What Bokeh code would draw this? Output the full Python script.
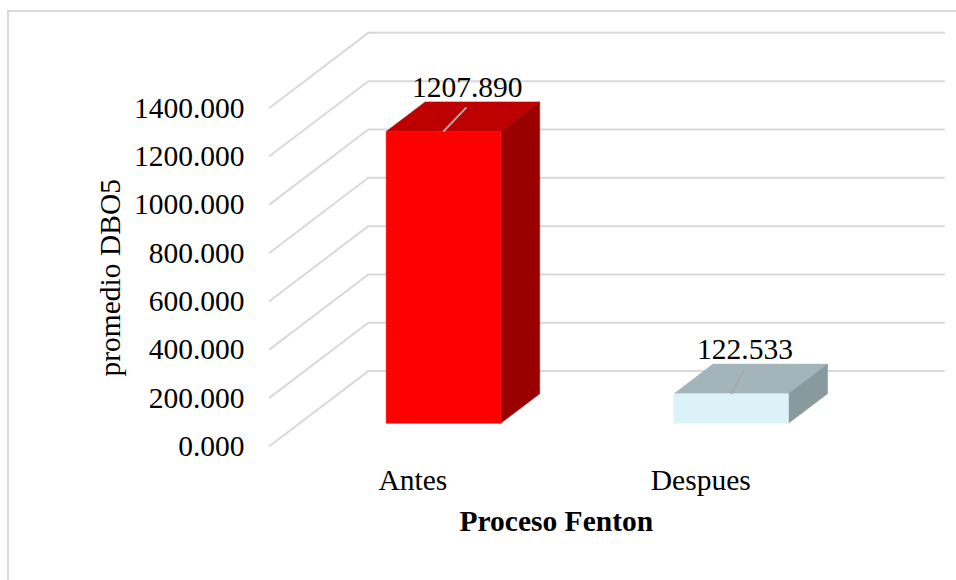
from bokeh.embed import file_html
from bokeh.resources import INLINE
from bokeh.core.properties import value
from bokeh.models import FixedTicker, Range1d, Title
from bokeh.plotting import figure

# Chart values
categories = ["Antes", "Despues"]
promedio_dbo5 = [1207.890, 122.533]
tick_values = [0, 200, 400, 600, 800, 1000, 1200, 1400]

# Face colours of each bar
front_colors = ["#FF0000", "#DAF2F8"]
top_colors = ["#BD0000", "#A3B5BA"]
side_colors = ["#9B0000", "#889A9E"]
leader_colors = ["#B0A8A8", "#ABA8A8"]
leader_lean = [0.080, 0.045]

FONT = "Liberation Serif"
FONT_SIZE = "29.5px"
GRID = "#D9D9D9"

# Scale of the plotting plane, in pixels per unit
PX_PER_CATEGORY = 287.0
PX_PER_VALUE = 0.2405

# Oblique projection: depth 0..1 moves a point right and up on the page
DEPTH_X = 0.345
DEPTH_Y = 312.0
BAR_HALF = 0.199
BAR_NEAR = 0.307
BAR_FAR = 0.700


def px(c, d):
    return c + d * DEPTH_X


def py(v, d):
    return v + d * DEPTH_Y


def page_x(x):
    # Category coordinate of a horizontal page position
    return (x - 413) / PX_PER_CATEGORY


def page_y(y):
    # Value coordinate of a vertical page position
    return (445 - y) / PX_PER_VALUE


p = figure(
    width=947, height=568, output_backend="svg", toolbar_location=None,
    x_range=Range1d(page_x(269), page_x(957)), y_range=Range1d(page_y(451), page_y(13)),
    min_border_left=259, min_border_right=0, min_border_top=0, min_border_bottom=130,
)
# Chart area border on the left and top; the other two sides fall off the page
p.styles = {
    "margin-left": "7px", "margin-top": "10px",
    "border-left": f"2px solid {GRID}", "border-top": f"2px solid {GRID}",
    "box-sizing": "content-box",
}
p.outline_line_color = None
p.background_fill_color = "white"
p.border_fill_color = "white"
p.grid.visible = False

# Floor-to-wall guide lines and the back wall lines
for t in tick_values:
    p.line([px(-0.5, 0), px(-0.5, 1), px(1.503, 1)], [py(t, 0), py(t, 1), py(t, 1)],
           line_color=GRID, line_width=2)

# Three visible faces of every bar
for i, v in enumerate(promedio_dbo5):
    l, r = i - BAR_HALF, i + BAR_HALF
    p.patch([px(l, BAR_NEAR), px(r, BAR_NEAR), px(r, BAR_FAR), px(l, BAR_FAR)],
            [py(v, BAR_NEAR), py(v, BAR_NEAR), py(v, BAR_FAR), py(v, BAR_FAR)],
            fill_color=top_colors[i], line_color=top_colors[i], line_width=0.5)
    p.patch([px(r, BAR_NEAR), px(r, BAR_FAR), px(r, BAR_FAR), px(r, BAR_NEAR)],
            [py(0, BAR_NEAR), py(0, BAR_FAR), py(v, BAR_FAR), py(v, BAR_NEAR)],
            fill_color=side_colors[i], line_color=side_colors[i], line_width=0.5)
    p.patch([px(l, BAR_NEAR), px(r, BAR_NEAR), px(r, BAR_NEAR), px(l, BAR_NEAR)],
            [py(0, BAR_NEAR), py(0, BAR_NEAR), py(v, BAR_NEAR), py(v, BAR_NEAR)],
            fill_color=front_colors[i], line_color=front_colors[i], line_width=0.5)

    # Leader line and value label
    x0, y0 = px(i, BAR_NEAR), py(v, BAR_NEAR)
    x1, y1 = x0 + leader_lean[i], y0 + 100
    p.line([x0, x1], [y0, y1], line_color=leader_colors[i], line_width=2)
    p.text([x1 + 0.003], [y1 + 83], text=[f"{v:.3f}"], text_font=value(FONT),
           text_font_size=FONT_SIZE, text_color="#000000",
           text_align="center", text_baseline="middle")

# Value axis
p.yaxis.ticker = FixedTicker(ticks=tick_values)
p.yaxis.formatter.use_scientific = False
p.yaxis.major_label_overrides = {t: f"{t:.3f}" for t in tick_values}
p.yaxis.major_label_text_font = FONT
p.yaxis.major_label_text_font_size = FONT_SIZE
p.yaxis.major_label_text_color = "#000000"
p.yaxis.major_label_standoff = 18
p.yaxis.axis_line_color = None
p.yaxis.major_tick_line_color = None
p.yaxis.minor_tick_line_color = None

# Category axis
p.xaxis.ticker = FixedTicker(ticks=list(range(len(categories))))
p.xaxis.major_label_overrides = {i: c for i, c in enumerate(categories)}
p.xaxis.major_label_text_font = FONT
p.xaxis.major_label_text_font_size = FONT_SIZE
p.xaxis.major_label_text_color = "#000000"
p.xaxis.major_label_standoff = 5
p.xaxis.axis_line_color = None
p.xaxis.major_tick_line_color = None
p.xaxis.minor_tick_line_color = None

# Axis titles, set as side titles so they can sit off the frame's centre
p.add_layout(Title(text="Proceso Fenton", align="left", offset=191, standoff=8,
                   text_font=FONT, text_font_size=FONT_SIZE, text_font_style="bold",
                   text_color="#000000"), "below")
p.add_layout(Title(text="promedio DBO5", align="left", offset=76,
                   text_font=FONT, text_font_size=FONT_SIZE, text_font_style="normal",
                   text_color="#000000"), "left")

open("out.html", "w").write(file_html(p, INLINE))
